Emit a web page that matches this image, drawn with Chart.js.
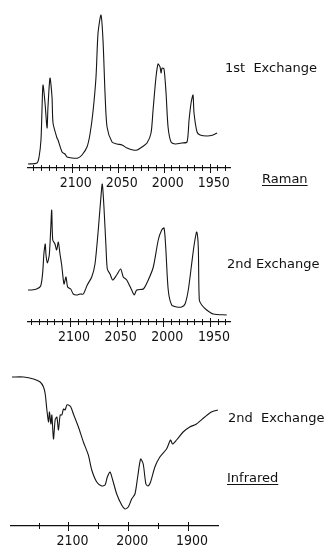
<!DOCTYPE html>
<html>
<head>
<meta charset="utf-8">
<script src="https://cdn.jsdelivr.net/npm/chart.js@4.4.1/dist/chart.umd.min.js"></script>
<style>
  html, body { margin: 0; padding: 0; background: #fff; }
  #wrap { position: relative; width: 329px; height: 548px; overflow: hidden; background: #fff; }
  canvas { position: absolute; left: 0; }
  .lbl { position: absolute; font-family: 'DejaVu Sans', sans-serif; font-size: 13px; color: #111; white-space: pre; line-height: 1; }
  .ul { text-decoration: underline; text-underline-offset: 2px; }
</style>
</head>
<body>
<div id="wrap">
  <canvas id="c1" width="329" height="190" style="top:0px"></canvas>
  <canvas id="c2" width="329" height="169" style="top:175px"></canvas>
  <canvas id="c3" width="329" height="188" style="top:360px"></canvas>
  <div class="lbl" style="left:225px; top:61px;">1st  Exchange</div>
  <div class="lbl ul" style="left:262px; top:172px;">Raman</div>
  <div class="lbl" style="left:227px; top:257px;">2nd Exchange</div>
  <div class="lbl" style="left:228px; top:411px;">2nd  Exchange</div>
  <div class="lbl ul" style="left:227px; top:471px;">Infrared</div>
</div>
<script>
// ---- Raman, 1st exchange (wavenumber cm-1, relative intensity) ----
const raman1Wavenumbers = [2147.5, 2137.7, 2135.5, 2133.4, 2132.3, 2131.2, 2129.0, 2126.8, 2125.8, 2123.6,
  2121.4, 2120.3, 2116.0, 2114.9, 2110.5, 2107.3, 2105.1, 2099.7, 2093.2, 2088.8,
  2083.4, 2080.1, 2076.8, 2073.6, 2071.4, 2068.2, 2066.0, 2063.8, 2061.6, 2056.2,
  2050.8, 2045.3, 2039.9, 2033.4, 2029.0, 2023.6, 2018.2, 2013.8, 2011.6, 2008.4,
  2006.2, 2004.0, 2002.9, 2001.8, 1999.7, 1997.5, 1995.3, 1992.1, 1987.7, 1980.1,
  1974.7, 1972.5, 1970.3, 1968.2, 1967.1, 1963.8, 1960.5, 1952.9, 1946.4, 1942.0];
const raman1Intensity = [4, 5, 11, 28, 58, 83, 65, 40, 61, 90,
  71, 45, 30, 28, 16, 14, 11, 10, 10, 13,
  21, 34, 57, 91, 135, 153, 128, 75, 41, 26,
  24, 23, 20, 18, 18, 21, 25, 35, 58, 91,
  104, 101, 95, 100, 99, 75, 41, 26, 24, 25,
  26, 48, 65, 73, 55, 36, 33, 32, 33, 35];

// ---- Raman, 2nd exchange ----
const raman2Wavenumbers = [2145.8, 2141.0, 2135.7, 2131.4, 2129.3, 2127.9, 2126.5, 2125.7, 2124.3, 2122.2,
  2120.7, 2119.6, 2118.5, 2116.1, 2114.3, 2112.5, 2110.7, 2108.9, 2106.4, 2104.3,
  2102.5, 2099.2, 2096.5, 2092.8, 2089.3, 2085.7, 2081.5, 2076.7, 2073.2, 2069.7,
  2067.1, 2065.4, 2063.6, 2061.4, 2060.0, 2057.1, 2054.2, 2050.0, 2045.7, 2042.9,
  2039.2, 2033.9, 2031.1, 2028.5, 2021.4, 2016.1, 2010.7, 2005.4, 2001.7, 1999.2,
  1997.4, 1994.7, 1991.0, 1985.6, 1980.3, 1976.7, 1973.2, 1969.6, 1966.8, 1964.2,
  1962.5, 1961.4, 1958.8, 1953.5, 1946.4, 1932.0];
const raman2Intensity = [32, 32, 33, 36, 49, 69, 78, 67, 59, 67,
  92, 112, 82, 78, 72, 80, 68, 57, 38, 45,
  35, 33, 28, 27, 28, 28, 37, 45, 58, 92,
  122, 138, 115, 75, 53, 48, 42, 47, 53, 45,
  42, 32, 27, 32, 33, 42, 55, 82, 92, 94,
  75, 32, 17, 15, 15, 18, 32, 58, 78, 90,
  75, 22, 17, 12, 8, 7];

// ---- Infrared, 2nd exchange (transmission) ----
const irWavenumbers = [2194.3, 2175.0, 2158.3, 2147.2, 2141.7, 2138.8, 2136.0, 2133.3, 2131.7, 2129.3,
  2127.7, 2125.0, 2122.2, 2119.3, 2116.7, 2113.8, 2111.0, 2108.3, 2105.5, 2102.7,
  2100.0, 2096.0, 2091.7, 2083.3, 2075.0, 2066.7, 2061.0, 2052.7, 2044.3, 2038.8,
  2035.0, 2030.5, 2026.0, 2019.3, 2011.0, 2005.5, 2000.0, 1994.3, 1988.8, 1984.3,
  1979.3, 1975.0, 1970.5, 1966.7, 1962.7, 1955.5, 1947.2, 1936.0, 1929.3, 1926.0,
  1919.3, 1908.3, 1897.2, 1886.0, 1872.2, 1861.0, 1850.0];
const irTransmission = [149, 149, 147, 144, 139, 132, 116, 104, 114, 102,
  111, 87, 106, 109, 96, 111, 111, 117, 116, 121,
  121, 119, 112, 99, 84, 71, 56, 44, 40, 41,
  49, 54, 46, 32, 21, 17, 19, 27, 32, 49,
  67, 62, 42, 40, 44, 59, 69, 77, 86, 82,
  86, 94, 99, 102, 109, 114, 116];

// ---- axis tick labels ----
const ramanTickLabels = [2100, 2050, 2000, 1950];
const irTickLabels = [2100, 2000, 1900];

function makeTicks(majors, step, subdivisions, lo, hi) {
  const out = [];
  const start = Math.max(...majors) + step;
  const end = Math.min(...majors) - step;
  for (let m = start; m >= end - 1e-6; m -= step) {
    for (let k = 0; k < subdivisions; k++) {
      const v = m - k * step / subdivisions;
      if (v > lo + 0.5 && v < hi - 0.5) out.push(+v.toFixed(4));
    }
  }
  return out;
}

const crossTicks = {
  id: 'crossTicks',
  afterDraw(chart, args, opts) {
    const s = chart.scales.x;
    const ctx = chart.ctx;
    const y = Math.round(s.top);
    ctx.save();
    ctx.strokeStyle = '#111';
    ctx.lineWidth = 1;
    s.ticks.forEach(t => {
      const x = Math.round(s.getPixelForValue(t.value)) + 0.5;
      const major = opts.majors.includes(t.value);
      ctx.beginPath();
      ctx.moveTo(x, y - (major ? 4 : 3));
      ctx.lineTo(x, y + (major ? 5 : 3));
      ctx.stroke();
    });
    ctx.restore();
  }
};

function buildChart(id, xs, ys, xMin, xMax, yMax, majors, step, subdiv, padLeft, padRight) {
  const tickValues = makeTicks(majors, step, subdiv, xMin, xMax);
  new Chart(document.getElementById(id), {
    type: 'line',
    data: {
      datasets: [{
        data: xs.map((x, i) => ({ x: x, y: ys[i] })),
        borderColor: '#151515',
        borderWidth: 1.1,
        pointRadius: 0,
        tension: 0.25,
        fill: false
      }]
    },
    options: {
      responsive: false,
      animation: false,
      devicePixelRatio: 1,
      layout: { padding: { top: 5, left: padLeft, right: padRight, bottom: 0 } },
      plugins: { legend: { display: false }, tooltip: { enabled: false }, crossTicks: { majors: majors } },
      scales: {
        x: {
          type: 'linear',
          reverse: true,
          min: xMin,
          max: xMax,
          afterBuildTicks: s => { s.ticks = tickValues.map(v => ({ value: v })); },
          afterFit: s => { s.height = 22; },
          grid: { display: false, drawTicks: true, tickLength: 4 },
          border: { display: true, color: '#111', width: 1.3 },
          ticks: {
            autoSkip: false,
            maxRotation: 0,
            padding: 3,
            labelOffset: 4,
            color: '#111',
            font: { family: "'Liberation Sans Narrow', 'DejaVu Sans Condensed', sans-serif", size: 14 },
            callback: v => majors.includes(v) ? String(v) : ''
          }
        },
        y: { display: false, min: 0, max: yMax }
      }
    },
    plugins: [crossTicks]
  });
}

buildChart('c1', raman1Wavenumbers, raman1Intensity, 1928, 2147.5, 163, ramanTickLabels, 50, 6, 28, 99);
buildChart('c2', raman2Wavenumbers, raman2Intensity, 1928.5, 2145, 142, ramanTickLabels, 50, 6, 28, 99);
buildChart('c3', irWavenumbers, irTransmission, 1850, 2196, 161, irTickLabels, 100, 2, 11, 111);
</script>
</body>
</html>
